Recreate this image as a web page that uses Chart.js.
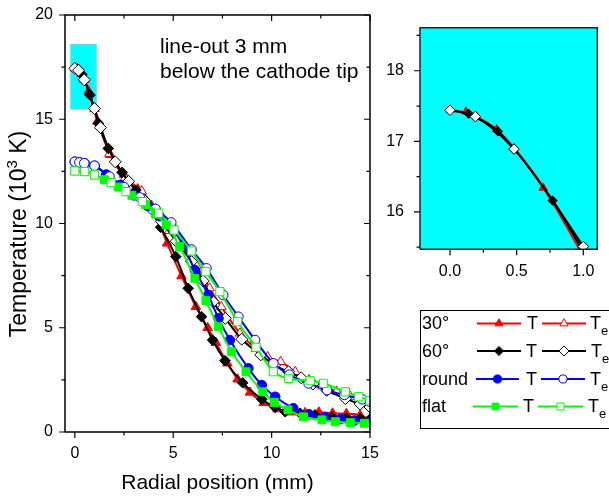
<!DOCTYPE html>
<html><head><meta charset="utf-8">
<script src="https://cdn.jsdelivr.net/npm/chart.js@4/dist/chart.umd.min.js"></script>
<style>
html,body{margin:0;padding:0;background:#fff;}
#wrap{position:relative;width:609px;height:499px;overflow:hidden;background:#fff;}
#main{position:absolute;left:0;top:0;}
#inset{position:absolute;left:380px;top:0;}
</style></head><body>
<div id="wrap"><canvas id="main" width="609" height="499"></canvas><canvas id="inset" width="229" height="300"></canvas></div>
<script>
// ---------------- DATA ----------------
// 30° cathode
const xT30  = [0.12,0.35,0.70,1.15,1.8,2.5,3.2,3.9,4.69,5.42,6.15,6.75,7.17,7.75,8.27,8.9,9.6,10.3,11.0,11.7,12.4,13.1,13.8,14.5,15.0];
const yT30  = [17.42,17.17,16.34,14.9,13.3,12.35,11.65,10.85,9.05,7.48,6.01,5.0,4.28,3.3,2.53,1.9,1.4,1.1,0.95,0.92,0.95,0.9,0.88,0.8,0.6];
const xTe30 = [0,0.2,0.48,1.0,1.3,1.76,2.55,3.4,4.1,4.8,5.5,6.2,6.85,7.45,8.39,9.2,9.8,10.46,11.2,11.9,12.6,13.3,14.0,14.7,15.0];
const yTe30 = [17.45,17.35,16.9,15.5,14.7,13.35,12.2,11.55,10.7,9.65,8.9,7.95,6.9,6.0,4.73,4.0,3.6,3.37,2.89,2.5,2.2,1.95,1.7,1.5,1.4];
// 60° cathode
const xT60  = [0.14,0.36,0.77,1.2,1.7,2.4,3.1,3.7,4.36,5.13,5.76,6.44,7.0,7.63,8.53,9.5,10.18,10.69,11.45,12.2,13.07,13.8,14.5,15.0];
const yT60  = [17.39,17.14,16.16,14.8,13.6,12.45,11.6,10.9,9.82,8.41,6.89,5.53,4.41,3.42,2.36,1.57,1.18,0.97,0.9,0.82,0.72,0.68,0.66,0.62];
const xTe60 = [0,0.19,0.48,1.0,1.3,2.05,2.73,3.55,4.0,4.4,5.15,5.93,6.52,7.03,7.65,8.48,9.45,10.15,10.86,11.5,12.1,12.8,13.75,14.5,15.0];
const yTe60 = [17.44,17.35,16.89,15.51,14.6,12.96,12.02,11.1,10.6,10.1,9.15,8.17,7.25,6.25,5.45,4.45,3.7,3.2,2.89,2.6,2.3,2.0,1.6,1.34,1.2];
// round cathode
const xTrd  = [0,0.25,0.5,1.0,1.6,2.3,3.0,3.7,4.3,4.9,5.5,6.1,6.78,7.3,7.88,8.82,9.5,10.18,11.1,11.9,12.7,13.5,14.2,15.0];
const yTrd  = [12.96,12.93,12.89,12.77,12.35,11.85,11.35,10.85,10.35,9.88,8.95,7.77,6.57,5.45,4.41,3.05,2.25,1.69,1.14,0.85,0.72,0.62,0.55,0.5];
const xTerd = [0,0.23,0.48,1.0,1.76,2.5,3.3,4.1,4.9,5.93,6.69,7.54,8.31,9.16,10.09,10.9,11.88,12.82,13.7,14.6,15.0];
const yTerd = [12.96,12.93,12.89,12.77,12.25,11.75,11.25,10.7,10.05,8.75,7.85,6.57,5.53,4.41,3.29,2.75,2.33,2.01,1.78,1.57,1.45];
// flat cathode
const xTfl  = [0,0.5,1.0,1.5,2.2,2.9,3.6,4.1,4.65,5.33,6.1,6.66,7.29,7.97,8.7,9.55,10.14,10.83,11.62,12.56,13.24,14.0,14.72];
const yTfl  = [12.52,12.49,12.33,12.1,11.75,11.35,10.9,10.45,9.93,8.89,7.37,6.3,5.05,3.85,2.89,1.93,1.42,1.06,0.73,0.58,0.49,0.45,0.42];
const xTefl = [0,0.5,1.0,1.85,2.6,3.43,4.26,5.04,5.93,6.66,7.37,8.27,9.21,10.09,10.86,11.96,12.64,13.75,14.43,15.0];
const yTefl = [12.52,12.49,12.33,11.96,11.53,11.05,10.49,9.69,8.68,7.69,6.73,5.29,4.06,2.89,2.57,2.46,2.33,1.93,1.69,1.5];

// ticks / ranges
const mainXTicks = [0,5,10,15], mainXMinor = [2.5,7.5,12.5];
const mainYTicks = [0,5,10,15,20], mainYMinor = [2.5,7.5,12.5,17.5];
const mainXRange = [-0.5,15], mainYRange = [0,20];
const insetXTicks = [0,0.5,1.0], insetXMinor = [0.25,0.75];
const insetYTicks = [16,17,18], insetYMinor = [15.5,16.5,17.5,18.5];
const insetXRange = [-0.225,1.105], insetYRange = [15.47,18.61];

const legendGroups = ['30°','60°','round','flat'];
const annotationLines = ['line-out 3 mm','below the cathode tip'];

// ---------------- STYLES ----------------
const FONT = "'Liberation Sans', Arial, Helvetica, sans-serif";
Chart.defaults.font.family = FONT;
Chart.defaults.color = '#000';

// tick-mark lengths expressed in axis units (major, minor)
const mainTickLen  = {x:[0.29,0.17], y:[0.30,0.18]};
const insetTickLen = {x:[0.085,0.05], y:[0.045,0.026]};

const RED='#FF0000', BLACK='#000000', BLUE='#0000FF', GREEN='#00FF00', CYAN='#00FFFF';
const series = {
  T30:  {label:'30° T',    x:xT30,  y:yT30,  color:RED,   style:'triangle', filled:true,  r:5.5},
  Te30: {label:'30° Te',   x:xTe30, y:yTe30, color:RED,   style:'triangle', filled:false, r:5.5},
  T60:  {label:'60° T',    x:xT60,  y:yT60,  color:BLACK, style:'rectRot',  filled:true,  r:5.3},
  Te60: {label:'60° Te',   x:xTe60, y:yTe60, color:BLACK, style:'rectRot',  filled:false, r:6},
  Trd:  {label:'round T',  x:xTrd,  y:yTrd,  color:BLUE,  style:'circle',   filled:true,  r:4.8},
  Terd: {label:'round Te', x:xTerd, y:yTerd, color:BLUE,  style:'circle',   filled:false, r:4.8},
  Tfl:  {label:'flat T',   x:xTfl,  y:yTfl,  color:GREEN, style:'rect',     filled:true,  r:5.6},
  Tefl: {label:'flat Te',  x:xTefl, y:yTefl, color:GREEN, style:'rect',     filled:false, r:5.8}
};
function makeDataset(s, scale){
  return {
    label:s.label, xAxisID:'x', yAxisID:'y',
    data:s.x.map((v,i)=>({x:v,y:s.y[i]})),
    showLine:true, fill:false,
    borderColor:s.color, borderWidth:2,
    cubicInterpolationMode:'monotone',
    pointStyle:s.style, pointRadius:s.r*scale, pointHoverRadius:s.r*scale,
    pointBackgroundColor:s.filled?s.color:'#FFFFFF',
    pointBorderColor:s.color, pointBorderWidth:1
  };
}
// axis frame drawn through the chart's own scales (box = axis ranges)
function frameDataset(xr, yr, color){
  return {label:'frame', xAxisID:'x', yAxisID:'y',
    data:[{x:xr[0],y:yr[0]},{x:xr[1],y:yr[0]},{x:xr[1],y:yr[1]},{x:xr[0],y:yr[1]},{x:xr[0],y:yr[0]}],
    borderColor:color, borderWidth:1.5, borderJoinStyle:'miter', pointRadius:0, pointHoverRadius:0,
    tension:0, cubicInterpolationMode:'default', fill:false, clip:false, spanGaps:false};
}
// tick marks drawn through the chart's own scales
function tickDataset(xr, yr, xMaj, xMin, yMaj, yMin, len, mirror){
  const pts=[];
  const seg=(a,b)=>{pts.push(a,b,{x:a.x,y:null});};
  xMaj.map(v=>[v,len.x[0]]).concat(xMin.map(v=>[v,len.x[1]])).forEach(([v,l])=>{
    seg({x:v,y:yr[0]},{x:v,y:yr[0]-l});
    if(mirror) seg({x:v,y:yr[1]},{x:v,y:yr[1]-l});
  });
  yMaj.map(v=>[v,len.y[0]]).concat(yMin.map(v=>[v,len.y[1]])).forEach(([v,l])=>{
    seg({x:xr[0],y:v},{x:xr[0]-l,y:v});
    if(mirror) seg({x:xr[1],y:v},{x:xr[1]-l,y:v});
  });
  return {label:'ticks', xAxisID:'x', yAxisID:'y', data:pts,
    borderColor:'#000', borderWidth:1.2, pointRadius:0, pointHoverRadius:0,
    tension:0, cubicInterpolationMode:'default', fill:false, clip:false, spanGaps:false};
}
// first dataset is drawn on top
const mainOrder = ['Tefl','Tfl','Terd','Trd','Te60','T60','Te30','T30'];
const insetOrder = ['Te60','T60','Te30','T30'];

// ---------------- PLUGINS ----------------
const mainPlugin = {
  id:'mainDecor',
  beforeDatasetsDraw(chart){
    const ctx = chart.ctx, x = chart.scales.x, y = chart.scales.y;
    const l=x.getPixelForValue(insetXRange[0]), r=x.getPixelForValue(insetXRange[1]);
    const t=y.getPixelForValue(insetYRange[1]), b=y.getPixelForValue(insetYRange[0]);
    ctx.save(); ctx.fillStyle=CYAN; ctx.fillRect(l,t,r-l,b-t);
    ctx.strokeStyle='#6fd9e8'; ctx.lineWidth=1; ctx.strokeRect(l+0.5,t+0.5,r-l-1,b-t-1);
    ctx.restore();
  },
  afterDraw(chart){
    const ctx = chart.ctx;
    ctx.save();
    ctx.translate(26, 0); ctx.rotate(-Math.PI/2);
    ctx.fillStyle='#000'; ctx.textBaseline='alphabetic'; ctx.textAlign='left';
    const p1='Temperature (10', p2='3', p3=' K)';
    ctx.font='23px '+FONT; const w1=ctx.measureText(p1).width, w3=ctx.measureText(p3).width;
    ctx.font='15px '+FONT; const w2=ctx.measureText(p2).width;
    const total=w1+w2+w3; const sx=-(234+total/2);
    ctx.font='23px '+FONT; ctx.fillText(p1,sx,0);
    ctx.font='15px '+FONT; ctx.fillText(p2,sx+w1,-9);
    ctx.font='23px '+FONT; ctx.fillText(p3,sx+w1+w2,0);
    ctx.restore();
    ctx.save(); ctx.fillStyle='#000'; ctx.font='21px '+FONT; ctx.textBaseline='alphabetic'; ctx.textAlign='left';
    ctx.fillText(annotationLines[0],160,53); ctx.fillText(annotationLines[1],160,78);
    ctx.restore();
    drawLegend(ctx);
  }
};

function drawLegend(ctx){
  ctx.save();
  ctx.strokeStyle='#000'; ctx.lineWidth=1;
  ctx.strokeRect(420.5,310.5,200,118);
  const rows=[
    {y:323.5, a:[477,521], b:[542,586], tT:527, tTe:590, k:['T30','Te30']},
    {y:351,   a:[477,521], b:[542,586], tT:526, tTe:591, k:['T60','Te60']},
    {y:379,   a:[476,519], b:[541,585], tT:526, tTe:590, k:['Trd','Terd']},
    {y:406.5, a:[473,518], b:[538,583], tT:523, tTe:588, k:['Tfl','Tefl']}
  ];
  rows.forEach((row,i)=>{
    ctx.fillStyle='#000'; ctx.font='18px '+FONT; ctx.textBaseline='middle'; ctx.textAlign='left';
    ctx.fillText(legendGroups[i],422,row.y+1);
    [row.a,row.b].forEach((seg,j)=>{
      const s=series[row.k[j]];
      ctx.strokeStyle=s.color; ctx.lineWidth=2;
      ctx.beginPath(); ctx.moveTo(seg[0],row.y); ctx.lineTo(seg[1],row.y); ctx.stroke();
      ctx.fillStyle=s.filled?s.color:'#FFFFFF'; ctx.strokeStyle=s.color; ctx.lineWidth=1;
      Chart.helpers.drawPoint(ctx,{pointStyle:s.style,radius:s.r*0.85,rotation:0,borderWidth:1},(seg[0]+seg[1])/2,row.y);
    });
    ctx.fillStyle='#000'; ctx.font='18px '+FONT; ctx.textBaseline='middle';
    ctx.fillText('T',row.tT,row.y+1);
    ctx.fillText('T',row.tTe,row.y+1);
    const tw=ctx.measureText('T').width;
    ctx.font='13px '+FONT; ctx.fillText('e',row.tTe+tw,row.y+8);
  });
  ctx.restore();
}

const insetPlugin = {
  id:'insetDecor',
  beforeDatasetsDraw(chart){
    const ctx = chart.ctx, a = chart.chartArea;
    ctx.save(); ctx.fillStyle=CYAN; ctx.fillRect(a.left,a.top,a.right-a.left,a.bottom-a.top); ctx.restore();
  }
};

function axisCfg(range, ticks, fmt, fit, pad){
  return {type:'linear',min:range[0],max:range[1],
    afterBuildTicks:s=>{s.ticks=ticks.map(v=>({value:v}));},
    afterFit:fit,
    grid:{display:false,drawTicks:false}, border:{display:false},
    ticks:{font:{size:16},padding:pad,color:'#000',maxRotation:0,autoSkip:false,callback:fmt}};
}

// ---------------- MAIN CHART ----------------
const mainX = axisCfg(mainXRange, mainXTicks, v=>String(v), s=>{s.height=67; s.paddingLeft=0; s.paddingRight=0;}, 12);
mainX.title = {display:true,text:'Radial position (mm)',font:{size:21},padding:{top:0,bottom:3},color:'#000'};
new Chart(document.getElementById('main'),{
  type:'line',
  data:{datasets:[
    frameDataset(mainXRange, mainYRange, '#000'),
    tickDataset(mainXRange, mainYRange, mainXTicks, mainXMinor, mainYTicks, mainYMinor, mainTickLen, true)
  ].concat(mainOrder.map(k=>makeDataset(series[k],1)))},
  options:{
    responsive:false, animation:false, devicePixelRatio:1,
    layout:{padding:{top:15,right:239,left:0,bottom:0}},
    plugins:{legend:{display:false},tooltip:{enabled:false}},
    scales:{
      x:mainX,
      y:axisCfg(mainYRange, mainYTicks, v=>String(v), s=>{s.width=65; s.paddingTop=0; s.paddingBottom=0;}, 12)
    }
  },
  plugins:[mainPlugin]
});

// ---------------- INSET CHART ----------------
new Chart(document.getElementById('inset'),{
  type:'line',
  data:{datasets:[
    frameDataset(insetXRange, insetYRange, '#222'),
    tickDataset(insetXRange, insetYRange, insetXTicks, insetXMinor, insetYTicks, insetYMinor, insetTickLen, false)
  ].concat(insetOrder.map(k=>makeDataset(series[k],0.88)))},
  options:{
    responsive:false, animation:false, devicePixelRatio:1,
    layout:{padding:{top:27.7,right:11.7,left:0,bottom:0}},
    plugins:{legend:{display:false},tooltip:{enabled:false}},
    scales:{
      x:axisCfg(insetXRange, insetXTicks, v=>Number(v).toFixed(1), s=>{s.height=50.7; s.paddingLeft=0; s.paddingRight=0;}, 13),
      y:axisCfg(insetYRange, insetYTicks, v=>String(v), s=>{s.width=40; s.paddingTop=0; s.paddingBottom=0;}, 16)
    }
  },
  plugins:[insetPlugin]
});
</script>
</body></html>
